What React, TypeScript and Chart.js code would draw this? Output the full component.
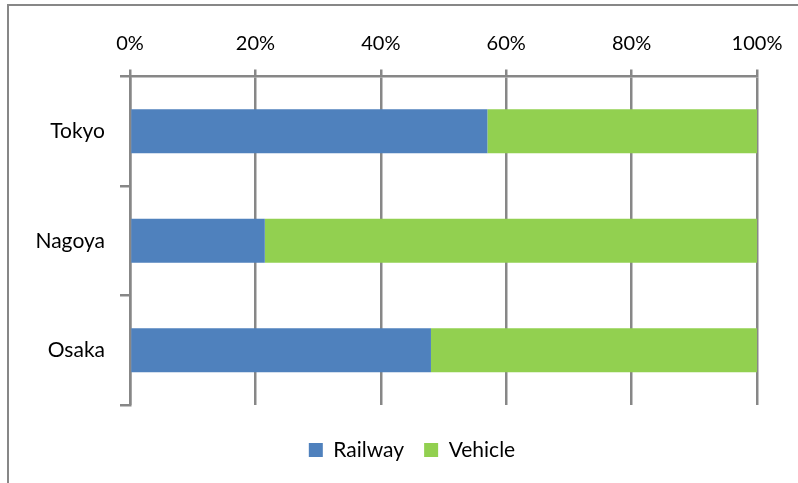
import React, { useEffect, useRef } from "react";
import { Chart, registerables } from "chart.js";

Chart.register(...registerables);

const categories = ["Tokyo", "Nagoya", "Osaka"];
const railway = [57, 21.5, 48];
const vehicle = [43, 78.5, 52];
const xTicks = [0, 20, 40, 60, 80, 100];
const seriesNames = ["Railway", "Vehicle"];
const seriesColors = ["#4F81BD", "#92D050"];

const FONT = "Lato, 'Open Sans', 'DejaVu Sans', sans-serif";
const GRID = "#878787";

export default function App() {
  const ref = useRef<HTMLCanvasElement>(null);

  useEffect(() => {
    const chart = new Chart(ref.current as HTMLCanvasElement, {
      type: "bar",
      data: {
        labels: categories,
        datasets: [
          {
            label: seriesNames[0],
            data: railway,
            backgroundColor: seriesColors[0],
            barPercentage: 0.4,
            categoryPercentage: 1,
            xAxisID: "x",
            yAxisID: "y",
          },
          {
            label: seriesNames[1],
            data: vehicle,
            backgroundColor: seriesColors[1],
            barPercentage: 0.4,
            categoryPercentage: 1,
            xAxisID: "x",
            yAxisID: "y",
          },
        ],
      },
      options: {
        indexAxis: "y",
        responsive: false,
        animation: false,
        layout: { padding: { left: 26, right: 0, top: 0, bottom: 12.5 } },
        plugins: {
          legend: {
            position: "bottom",
            labels: {
              boxWidth: 14,
              boxHeight: 14,
              padding: 20,
              color: "#000",
              font: { family: FONT, size: 21 },
            },
          },
          tooltip: { enabled: false },
        },
        scales: {
          x: {
            type: "linear",
            position: "top",
            stacked: true,
            min: 0,
            max: 100,
            afterBuildTicks: (s: any) => {
              s.ticks = xTicks.map((v) => ({ value: v }));
            },
            ticks: {
              callback: (v: any) => v + "%",
              padding: 14,
              color: "#000",
              font: { family: FONT, size: 20 },
              maxRotation: 0,
            },
            grid: { color: GRID, lineWidth: 2.5, tickLength: 7 },
            border: { color: GRID, width: 2.5 },
            afterFit: (s: any) => {
              s.height = 76.5;
            },
          },
          y: {
            type: "category",
            stacked: true,
            grid: {
              offset: true,
              drawOnChartArea: false,
              tickLength: 10,
              color: GRID,
              lineWidth: 2.5,
            },
            border: { color: GRID, width: 2.5 },
            ticks: {
              padding: 15,
              color: "#000",
              font: { family: FONT, size: 21 },
            },
            afterFit: (s: any) => {
              s.width = 104;
            },
          },
          y2: {
            type: "linear",
            axis: "y",
            position: "right",
            display: true,
            grid: { display: false },
            ticks: { display: false },
            border: { display: false },
            afterFit: (s: any) => {
              s.width = 41;
            },
          },
          x2: {
            type: "linear",
            axis: "x",
            position: "bottom",
            display: true,
            grid: { display: false },
            ticks: { display: false },
            border: { display: false },
            afterFit: (s: any) => {
              s.height = 14.5;
            },
          },
        },
      } as any,
    });
    return () => chart.destroy();
  }, []);

  return (
    <div
      style={{
        position: "fixed",
        left: 0,
        top: 0,
        width: 798,
        height: 483,
        overflow: "hidden",
        background: "#fff",
      }}
    >
      <div
        style={{
          position: "absolute",
          left: 7,
          top: 4,
          width: 1000,
          height: 1000,
          borderLeft: `2.5px solid ${GRID}`,
          borderTop: `2.5px solid ${GRID}`,
        }}
      />
      <canvas
        ref={ref}
        width={798}
        height={483}
        style={{ position: "absolute", left: 0, top: 0, display: "block" }}
      />
    </div>
  );
}
